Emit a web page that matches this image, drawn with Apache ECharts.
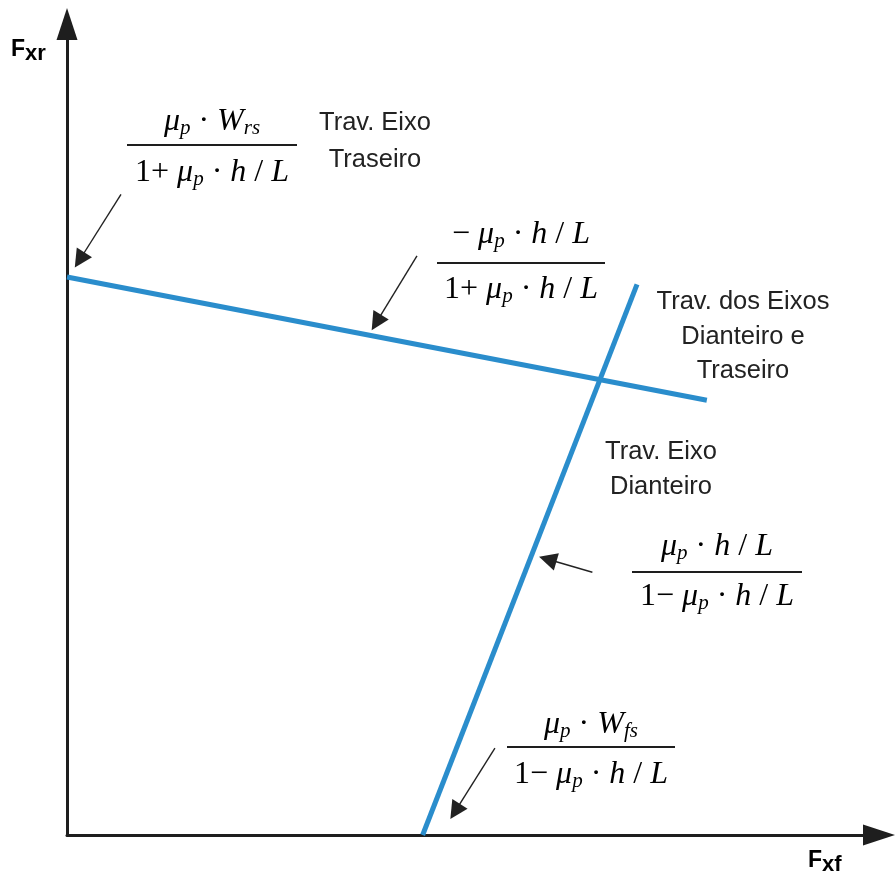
<!DOCTYPE html>
<html>
<head>
<meta charset="utf-8">
<script src="https://cdn.jsdelivr.net/npm/echarts@6/dist/echarts.min.js"></script>
<style>
  html, body { margin: 0; padding: 0; background: #ffffff; }
  #chart { width: 895px; height: 886px; }
</style>
</head>
<body>
<div id="chart"></div>
<script>
// Braking force diagram: front axle force Fxf (x) against rear axle force Fxr (y),
// in normalised units.
const axisMax = 10;

// Rear axle lock-up limit (starts at μp·Wrs / (1 + μp·h/L) on the Fxr axis)
const rearAxleLine = [[0, 6.88], [7.88, 5.36]];
// Front axle lock-up limit (starts at μp·Wfs / (1 − μp·h/L) on the Fxf axis)
const frontAxleLine = [[4.38, 0], [7.02, 6.79]];

// Leader arrows: [tail, head]
const leaderArrows = [
  [[0.665, 7.90], [0.155, 7.09]],
  [[4.31, 7.14], [3.81, 6.32]],
  [[6.47, 3.24], [5.92, 3.40]],
  [[5.27, 1.07], [4.78, 0.29]]
];

// Region captions
const captions = [
  ['Trav. Eixo', 'Traseiro'],
  ['Trav. dos Eixos', 'Dianteiro e', 'Traseiro'],
  ['Trav. Eixo', 'Dianteiro']
];

// Formula labels (numerator / denominator) in rich-text markup
const formulas = [
  { num: '{i|μ}{s|p}{r| · }{i|W}{s|rs}',
    den: '{r|1+ }{i|μ}{s|p}{r| · }{i|h}{r| / }{i|L}' },
  { num: '{r|− }{i|μ}{s|p}{r| · }{i|h}{r| / }{i|L}',
    den: '{r|1+ }{i|μ}{s|p}{r| · }{i|h}{r| / }{i|L}' },
  { num: '{i|μ}{s|p}{r| · }{i|h}{r| / }{i|L}',
    den: '{r|1− }{i|μ}{s|p}{r| · }{i|h}{r| / }{i|L}' },
  { num: '{i|μ}{s|p}{r| · }{i|W}{s|fs}',
    den: '{r|1− }{i|μ}{s|p}{r| · }{i|h}{r| / }{i|L}' }
];

const axisTitles = { x: ['F', 'xf'], y: ['F', 'xr'] };

// ---- layout & styling ----
const INK = '#1e1e1e';
const BLUE = '#2a8dcc';
const SANS = '"Liberation Sans", Arial, sans-serif';
const SERIF = '"Liberation Serif", "Times New Roman", serif';

const mathRich = {
  i: { fontFamily: SERIF, fontStyle: 'italic', fontSize: 32, lineHeight: 34, color: INK },
  r: { fontFamily: SERIF, fontSize: 32, lineHeight: 34, color: INK },
  s: { fontFamily: SERIF, fontStyle: 'italic', fontSize: 21, lineHeight: 20, verticalAlign: 'bottom', color: INK }
};

// caption placement: centre x, top y, line height
const captionLayout = [
  { x: 375, y: 104, lh: 37 },
  { x: 743, y: 285, lh: 34.5 },
  { x: 661, y: 434, lh: 35 }
];
// formula placement: bar centre x, bar y, bar half width, numerator / denominator offsets
const formulaLayout = [
  { x: 212, y: 145, w: 85, dn: -23, dd: 28 },
  { x: 521, y: 263, w: 84, dn: -28, dd: 27 },
  { x: 717, y: 572, w: 85, dn: -25, dd: 25 },
  { x: 591, y: 747, w: 84, dn: -22, dd: 28 }
];

const graphics = [];
captions.forEach(function (lines, k) {
  const L = captionLayout[k];
  graphics.push({
    type: 'text', x: L.x, y: L.y, silent: true,
    style: {
      text: lines.join('\n'), fill: '#222', fontFamily: SANS, fontSize: 25.5,
      lineHeight: L.lh, align: 'center', verticalAlign: 'top'
    }
  });
});
formulas.forEach(function (f, k) {
  const L = formulaLayout[k];
  graphics.push({
    type: 'line', silent: true,
    shape: { x1: L.x - L.w, y1: L.y, x2: L.x + L.w, y2: L.y },
    style: { stroke: INK, lineWidth: 2 }
  });
  graphics.push({
    type: 'text', x: L.x, y: L.y + L.dn, silent: true,
    style: { text: f.num, rich: mathRich, align: 'center', verticalAlign: 'middle' }
  });
  graphics.push({
    type: 'text', x: L.x, y: L.y + L.dd, silent: true,
    style: { text: f.den, rich: mathRich, align: 'center', verticalAlign: 'middle' }
  });
});
function axisTitle(parts, x, y, subDrop) {
  return {
    type: 'text', x: x, y: y, silent: true,
    style: {
      text: '{f|' + parts[0] + '}{s|' + parts[1] + '}',
      align: 'left', verticalAlign: 'middle',
      rich: {
        f: { fontFamily: SANS, fontSize: 23, fontWeight: 'bold', lineHeight: 30, color: '#222' },
        s: { fontFamily: SANS, fontSize: 22, fontWeight: 'bold', lineHeight: 30 - 2 * subDrop,
             verticalAlign: 'bottom', color: '#222' }
      }
    }
  };
}
graphics.push(axisTitle(axisTitles.y, 11, 50, 7));
graphics.push(axisTitle(axisTitles.x, 808, 861, 11));

const chart = echarts.init(document.getElementById('chart'), null, { renderer: 'canvas' });
const axisCommon = {
  type: 'value', min: 0, max: axisMax,
  splitLine: { show: false }, axisTick: { show: false }, axisLabel: { show: false },
  axisLine: {
    show: true, onZero: false,
    symbol: ['none', 'triangle'], symbolSize: [21, 32],
    lineStyle: { color: INK, width: 3 }
  }
};
chart.setOption({
  animation: false,
  backgroundColor: '#ffffff',
  grid: { left: 67, right: 16, top: 24, bottom: 51, containLabel: false },
  xAxis: axisCommon,
  yAxis: axisCommon,
  series: [
    {
      type: 'line', data: rearAxleLine, symbol: 'none', silent: true,
      lineStyle: { color: BLUE, width: 5 }
    },
    {
      type: 'line', data: frontAxleLine, symbol: 'none', silent: true,
      lineStyle: { color: BLUE, width: 5 }
    },
    {
      type: 'lines', coordinateSystem: 'cartesian2d', silent: true,
      symbol: ['none', 'triangle'], symbolSize: 18,
      lineStyle: { color: '#222', width: 1.4, opacity: 1 },
      data: leaderArrows.map(function (a) { return { coords: a }; })
    }
  ],
  graphic: graphics
});
</script>
</body>
</html>
